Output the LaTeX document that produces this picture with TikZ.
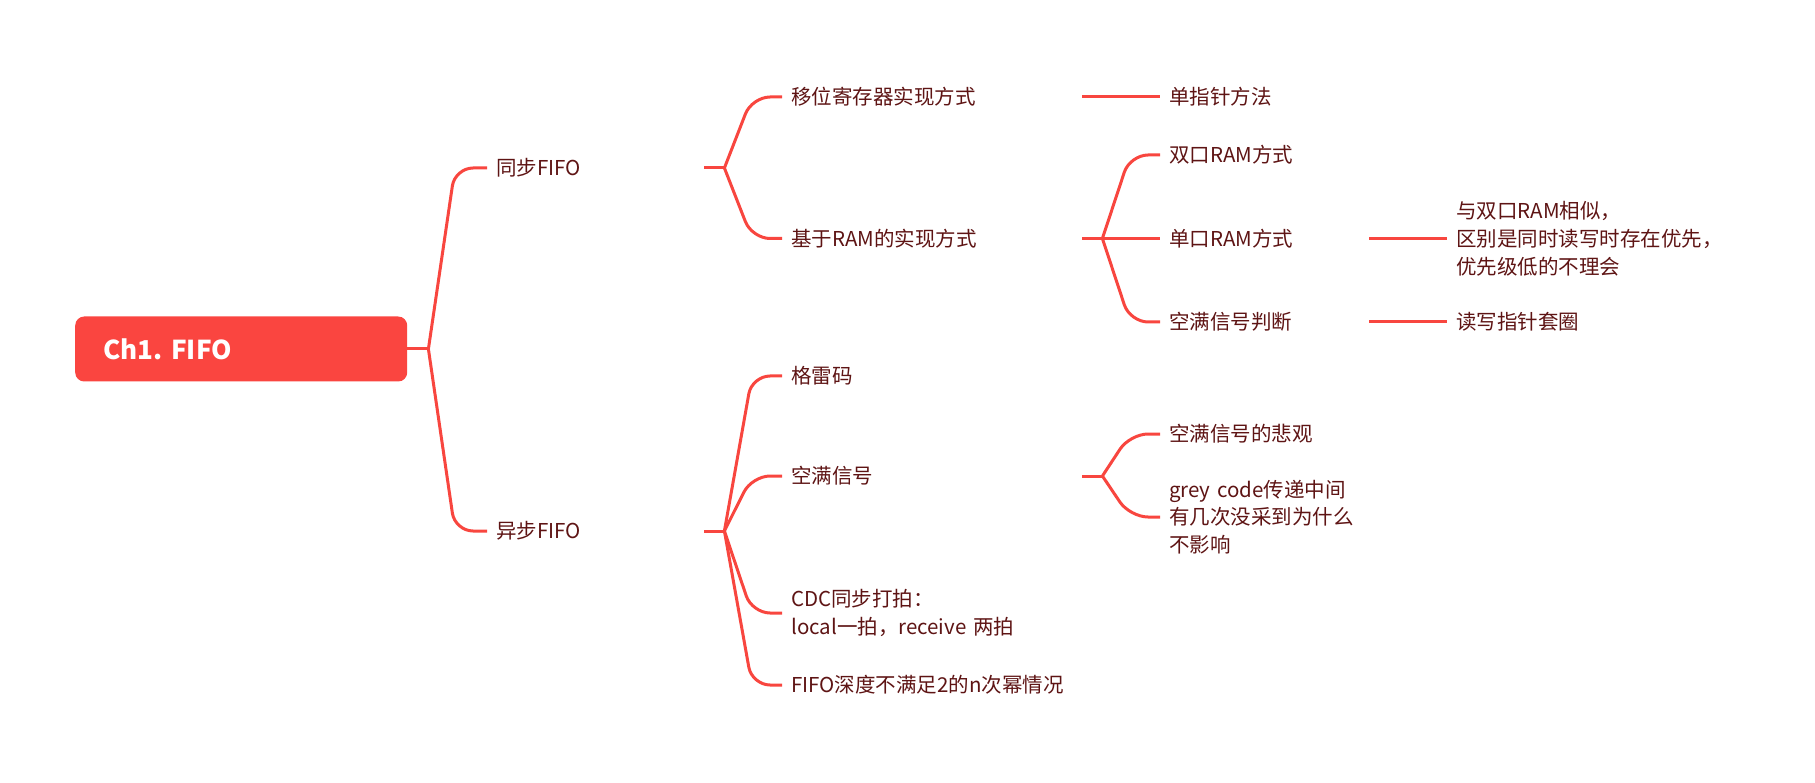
\documentclass[tikz,border=0pt]{standalone}
\usepackage{fontspec}
\setmainfont{Noto Sans CJK SC}
\usetikzlibrary{calc}
\definecolor{linec}{HTML}{F8463F}
\definecolor{txtc}{HTML}{5E1414}
\definecolor{rootc}{HTML}{FA4540}
\begin{document}
\begin{tikzpicture}[x=1pt,y=-1pt,
  every node/.style={font=\fontsize{20.5}{27.8}\selectfont, text=txtc, inner ysep=0pt, inner xsep=9pt, anchor=west, align=left},
  con/.style={draw=linec, line width=3pt, rounded corners=18pt},
  w1/.style={text width=199pt},
  w2/.style={text width=282pt},
  w3/.style={text width=191pt}]
\useasboundingbox (0,0) rectangle (1815,783);
% root
\node[fill=rootc, rounded corners=9pt, text=white, font=\bfseries\fontsize{26}{26}\selectfont,
      minimum height=65pt, text width=276pt, inner xsep=28pt] (root) at (75,349) {Ch1.\ FIFO};
% level 1
\node[w1] (sync) at (487,168) {同步FIFO};
\node[w1] (async) at (487,531) {异步FIFO};
% level 2
\node[w2] (shift) at (782,97) {移位寄存器实现方式};
\node[w2] (ram) at (782,238.5) {基于RAM的实现方式};
\node[w2] (gray) at (782,376) {格雷码};
\node[w2] (ef) at (782,476) {空满信号};
\node[w2] (cdc) at (782,613) {CDC同步打拍：\\local一拍，receive 两拍};
\node[w2] (depth) at (782,685) {FIFO深度不满足2的n次幂情况};
% level 3
\node[w3] (single) at (1160,97) {单指针方法};
\node[w3] (dual) at (1160,155) {双口RAM方式};
\node[w3] (sport) at (1160,238.5) {单口RAM方式};
\node[w3] (efj) at (1160,322) {空满信号判断};
\node[w3] (pess) at (1160,434) {空满信号的悲观};
\node[w3] (grey) at (1160,517) {grey code传递中间\\有几次没采到为什么\\不影响};
% level 4
\node (sim) at (1447,238.5) {与双口RAM相似，\\区别是同时读写时存在优先，\\优先级低的不理会};
\node (wrap) at (1447,322) {读写指针套圈};
% branch points
\path (root.east) ++(21,0) coordinate (b0);
\path (sync.east) ++(20,0) coordinate (bs);
\path (async.east) ++(20,0) coordinate (ba);
\path (ram.east) ++(20,0) coordinate (br);
\path (ef.east) ++(20,0) coordinate (be);
% connectors
\draw[con] (root.east) -- (b0);
\foreach \c in {sync,async} \draw[con] (b0) -- ($(\c.west)+(-32,0)$) -- (\c.west);
\draw[con] (sync.east) -- (bs);
\foreach \c in {shift,ram} \draw[con] (bs) -- ($(\c.west)+(-30,0)$) -- (\c.west);
\draw[con] (async.east) -- (ba);
\foreach \c in {gray,ef,cdc,depth} \draw[con] (ba) -- ($(\c.west)+(-30,0)$) -- (\c.west);
\draw[con] (shift.east) -- (single.west);
\draw[con] (ram.east) -- (br);
\foreach \c in {dual,sport,efj} \draw[con] (br) -- ($(\c.west)+(-30,0)$) -- (\c.west);
\draw[con] (sport.east) -- (sim.west);
\draw[con] (efj.east) -- (wrap.west);
\draw[con] (ef.east) -- (be);
\foreach \c in {pess,grey} \draw[con] (be) -- ($(\c.west)+(-30,0)$) -- (\c.west);
\end{tikzpicture}
\end{document}
